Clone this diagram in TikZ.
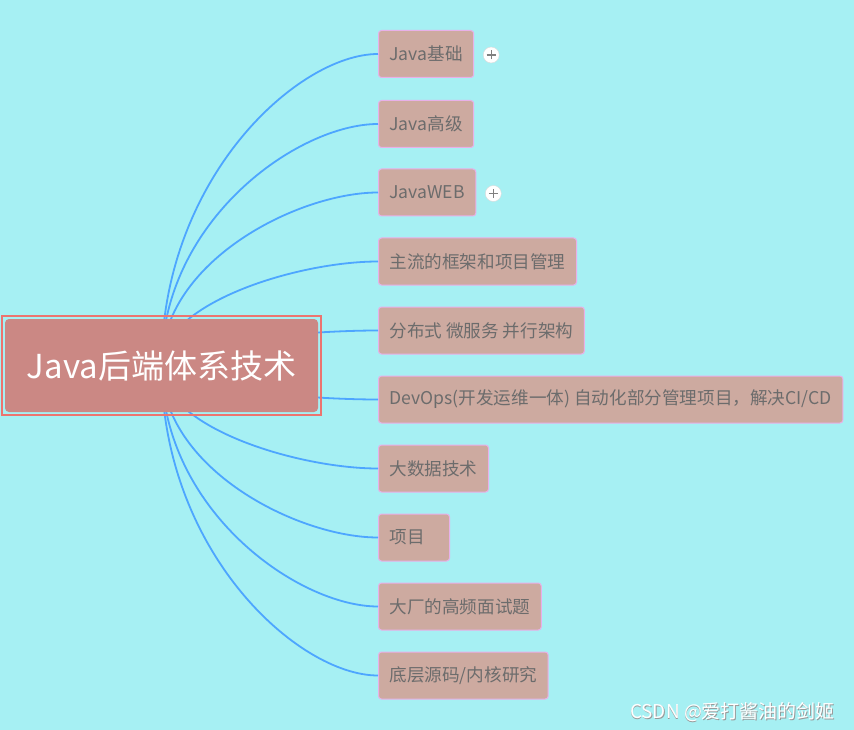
\documentclass[tikz,border=0pt]{standalone}
\usepackage{fontspec}
\setmainfont{Noto Sans CJK SC}
\usetikzlibrary{calc}

\definecolor{bgcyan}{RGB}{166,240,243}
\definecolor{rootred}{RGB}{203,136,132}
\definecolor{rootedge}{RGB}{236,116,111}
\definecolor{leaffill}{RGB}{205,170,160}
\definecolor{leafedge}{RGB}{232,176,232}
\definecolor{leaftext}{RGB}{108,108,108}
\definecolor{linkblue}{RGB}{77,166,255}

\tikzset{
  leaf/.style={draw=leafedge, fill=leaffill, rounded corners=3pt, line width=1pt,
    text=leaftext, font=\fontsize{17.6}{20}\selectfont, minimum height=47pt,
    inner xsep=11pt, anchor=west},
  link/.style={linkblue, line width=1.8pt},
  plusbtn/.style={circle, fill=white, draw=gray!30, minimum size=16pt, inner sep=0pt,
    path picture={\draw[gray, line width=1.2pt]
      ($(path picture bounding box.center)+(-4.5pt,0)$) -- ++(9pt,0)
      ($(path picture bounding box.center)+(0,-4.5pt)$) -- ++(0,9pt);}}
}

\begin{document}
\begin{tikzpicture}[x=1pt,y=-1pt]
  \fill[bgcyan] (0,0) rectangle (854,730);
  \useasboundingbox (0,0) rectangle (854,730);

  % branches, top to bottom
  \node[leaf] (b1)  at (378,54)    {Java基础};
  \node[leaf] (b2)  at (378,124)   {Java高级};
  \node[leaf] (b3)  at (378,192.5) {JavaWEB};
  \node[leaf] (b4)  at (378,261.5) {主流的框架和项目管理};
  \node[leaf] (b5)  at (378,330.5) {分布式 微服务 并行架构};
  \node[leaf] (b6)  at (378,399.5) {DevOps(开发运维一体) 自动化部分管理项目，解决CI/CD};
  \node[leaf] (b7)  at (378,468.5) {大数据技术};
  \node[leaf, text width=49pt] (b8) at (378,537.5) {项目};
  \node[leaf] (b9)  at (378,606.5) {大厂的高频面试题};
  \node[leaf] (b10) at (378,675.5) {底层源码/内核研究};

  \node[plusbtn] (p1) at ($(b1.east)+(17,1)$) {};
  \node[plusbtn] (p3) at ($(b3.east)+(17,1)$) {};

  % curved links start under the root
  \coordinate (hub) at (161.5,365.5);
  \foreach \i in {1,...,10} {
    \draw[link] (hub)
      .. controls ($(hub)!0.6!(hub |- b\i.west)$) and ($(hub |- b\i.west)!0.63!(b\i.west)$)
      .. (b\i.west);
  }

  \node[fill=rootred, rounded corners=4pt, minimum width=313pt, minimum height=93pt,
    text=white, font=\fontsize{33}{38}\selectfont] (root) at (hub) {Java后端体系技术};
  \draw[rootedge, line width=1.5pt] ($(root.south west)+(-3pt,-3pt)$)
    rectangle ($(root.north east)+(3pt,3pt)$);

  \node[text=gray!80, font=\fontsize{19}{22}\selectfont] (markshade) at (733.3,712.8) {CSDN @爱打酱油的剑姬};
  \node[text=white, font=\fontsize{19}{22}\selectfont] (mark) at (732.5,712) {CSDN @爱打酱油的剑姬};
\end{tikzpicture}
\end{document}
